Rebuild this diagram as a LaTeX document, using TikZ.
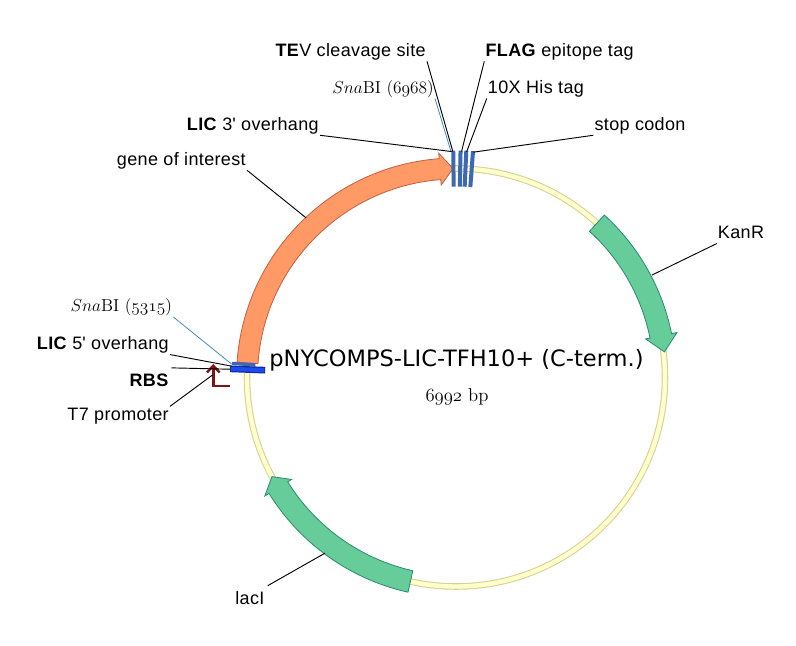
\RequirePackage{fix-cm}
\documentclass[tikz,border=0pt]{standalone}
\usepackage{fontspec}
\newfontfamily\labfont[LetterSpace=2]{Liberation Sans}
\newfontfamily\titlefont{DejaVu Sans}
\usetikzlibrary{arrows.meta}
\definecolor{bbfill}{RGB}{255,255,204}
\definecolor{bbedge}{RGB}{214,210,150}
\definecolor{orfill}{RGB}{255,153,102}
\definecolor{oredge}{RGB}{196,96,64}
\definecolor{grfill}{RGB}{102,204,153}
\definecolor{gredge}{RGB}{40,140,110}
\definecolor{barblue}{RGB}{60,105,178}
\definecolor{brblue}{RGB}{30,75,235}
\definecolor{dkblue}{RGB}{15,40,160}
\definecolor{t7red}{RGB}{128,20,20}
\definecolor{snaline}{RGB}{70,140,190}
\begin{document}
\begin{tikzpicture}[x=0.75pt,y=0.75pt,yscale=-1,
  lab/.style={font={\labfont\fontsize{13.5}{16}\selectfont}, inner sep=0.75pt, text depth=3pt},
  cmlab/.style={font={\fontsize{13}{15}\selectfont}, inner sep=0.75pt, text depth=3pt},
  leader/.style={draw=black, line width=0.7pt},
  snaleader/.style={draw=snaline, line width=0.6pt},
  orangefeat/.style={fill=orfill, draw=oredge, line width=0.6pt},
  greenfeat/.style={fill=grfill, draw=gredge, line width=0.6pt},
  tagbar/.style={draw=barblue, line width=3pt},
  t7arrow/.style={draw=t7red, line width=1.8pt, -{Straight Barb[length=5pt,width=9.5pt]}},
]
\fill[white] (0,0) rectangle (796,646);
\useasboundingbox (0,0) rectangle (796,646);

\coordinate (C) at (456,377.5);
% backbone
\draw[bbedge, line width=4.9pt] (C) circle[radius=209];
\draw[bbfill, line width=3.3pt] (C) circle[radius=209];

\begin{scope}[shift={(456,377.5)}]
  % gene of interest
  \path[orangefeat] (184:198.5) arc[start angle=184, end angle=265.6, radius=198.5]
     -- (265.6:193) -- (269.2:209) -- (265.6:225) -- (265.6:219.5)
     arc[start angle=265.6, end angle=184, radius=219.5] -- cycle;
  % KanR
  \path[greenfeat] (312.4:198) arc[start angle=312.4, end angle=348.5, radius=198]
     -- (348.5:193.5) -- (353:210) -- (348.5:225.5) -- (348.5:220)
     arc[start angle=348.5, end angle=312.4, radius=220] -- cycle;
  % lacI
  \path[greenfeat] (102.6:198) arc[start angle=102.6, end angle=148.2, radius=198]
     -- (148.2:193.5) -- (151.7:209) -- (148.2:225) -- (148.2:220)
     arc[start angle=148.2, end angle=102.6, radius=220] -- cycle;
  % top tag bars
  \draw[tagbar] (269.3:191) -- (269.3:227);
  \draw[tagbar] (271.15:191) -- (271.15:227);
  \draw[tagbar] (272.6:191) -- (272.6:227);
  \draw[tagbar] (274.3:191) -- (274.3:227);
  % left bars
  \draw[draw=barblue, line width=2.5pt] (183.6:201) -- (183.6:224.3);
  \draw[draw=dkblue, line width=5pt] (182.2:191) -- (182.2:226);
  \draw[draw=brblue, line width=3.2pt] (182.2:191.8) -- (182.2:225.2);
  % feature points
  \coordinate (pGene) at (226.8:219);
  \coordinate (pKan) at (332.4:221);
  \coordinate (pLac) at (126.7:219);
  \coordinate (pSnaL) at (183.4:224.7);
  \coordinate (pLicF) at (182.9:224.6);
  \coordinate (pRbs) at (182.1:226);
  \coordinate (pTev) at (269.2:226);
  \coordinate (pSnaT) at (268.7:226.5);
  \coordinate (pLicT) at (268.9:226);
  \coordinate (pFlag) at (271.4:226);
  \coordinate (pHis) at (272.7:226);
  \coordinate (pStop) at (274.4:226);
\end{scope}

% T7 promoter symbol
\coordinate (t7foot) at (230,386);
\coordinate (t7corner) at (213.3,386);
\coordinate (t7tip) at (213.3,364);
\coordinate (pT7) at (212.5,375);
\draw[t7arrow] (t7foot) -- (t7corner) -- (t7tip);

% labels
\node[lab, anchor=base east] (tev) at (427,56) {\textbf{TE}V cleavage site};
\node[lab, anchor=base west] (flag) at (484.3,56) {\textbf{FLAG} epitope tag};
\node[cmlab, anchor=base east] (snat) at (435,93.3) {$Sna$BI ($\mathnormal{6968}$)};
\node[lab, anchor=base west] (his) at (486.7,93.3) {10X His tag};
\node[lab, anchor=base east] (lict) at (320,130) {\textbf{LIC} 3\textquotesingle\ overhang};
\node[lab, anchor=base west] (stop) at (593.3,130) {stop codon};
\node[lab, anchor=base east] (gene) at (247,165) {gene of interest};
\node[lab, anchor=base west] (kan) at (716.7,238.3) {KanR};
\node[lab, anchor=base east] (lac) at (265.7,604) {lacI};
\node[cmlab, anchor=base east] (snal) at (173.3,311.7) {$Sna$BI ($\mathnormal{5315}$)};
\node[lab, anchor=base east] (licf) at (170,349.3) {\textbf{LIC} 5\textquotesingle\ overhang};
\node[lab, anchor=base east] (rbs) at (170,386.7) {\textbf{RBS}};
\node[lab, anchor=base east] (t7) at (170,420) {T7 promoter};
\node[font={\titlefont\fontsize{16.9}{19}\selectfont}, inner sep=0pt, anchor=base] (title) at (456.5,366.7) {pNYCOMPS-LIC-TFH10+ (C-term.)};
\node[font={\fontsize{14}{16}\selectfont}, inner sep=0pt, anchor=base] (bp) at (457,401.7) {$\mathnormal{6992}$ bp};

% leaders
\draw[leader] (tev.south east) -- (pTev);
\draw[snaleader] (snat.south east) -- (pSnaT);
\draw[leader] (lict.south east) -- (pLicT);
\draw[leader] (flag.south west) -- (pFlag);
\draw[leader] (his.south west) -- (pHis);
\draw[leader] (stop.south west) -- (pStop);
\draw[leader] (gene.south east) -- (pGene);
\draw[leader] (kan.south west) -- (pKan);
\draw[leader] ([shift={(2,-4)}]lac.north east) -- (pLac);
\draw[snaleader] (snal.south east) -- (pSnaL);
\draw[leader] (licf.south east) -- (pLicF);
\draw[leader] ([shift={(1.5,-5)}]rbs.north east) -- (pRbs);
\draw[leader] (t7.north east) -- (pT7);
\end{tikzpicture}
\end{document}
